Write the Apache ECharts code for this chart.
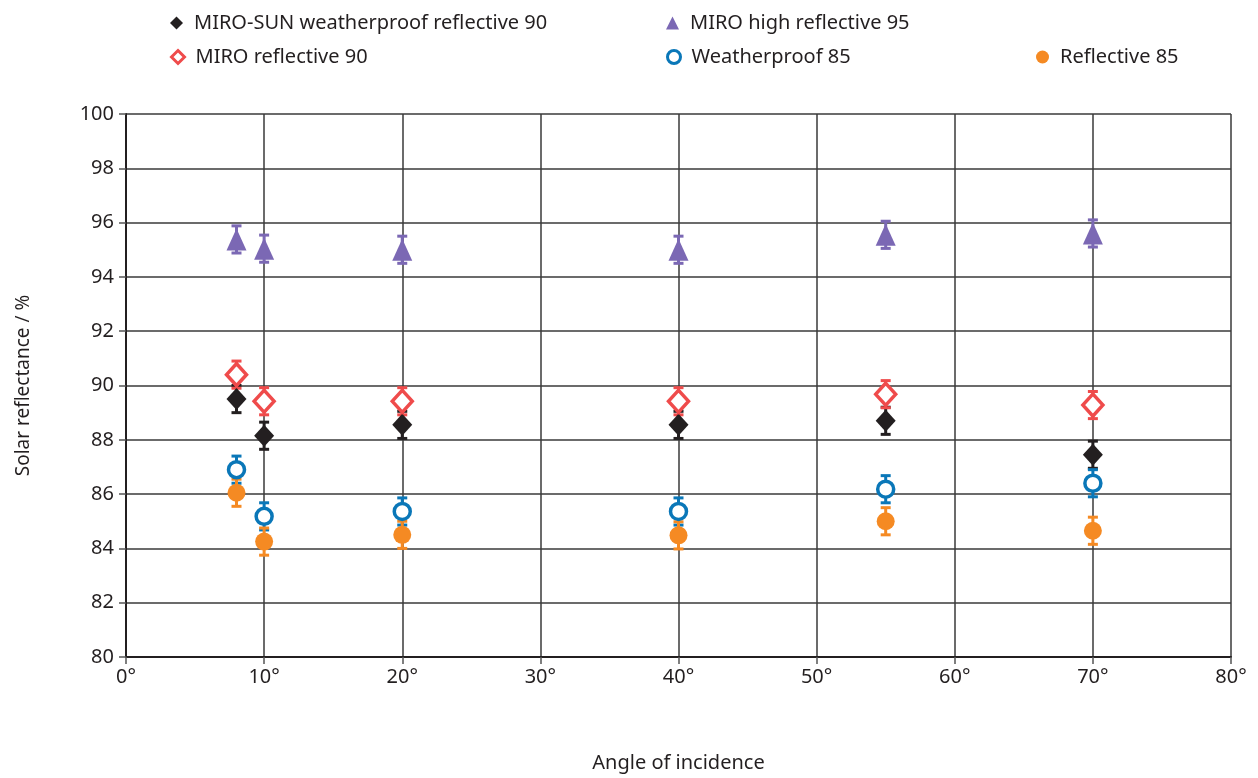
<!DOCTYPE html>
<html><head><meta charset="utf-8">
<script src="https://cdn.jsdelivr.net/npm/echarts@6/dist/echarts.min.js"></script>
<style>html,body{margin:0;padding:0;background:#fff}#c{width:1258px;height:778px}</style>
</head><body><div id="c"></div>
<script>
const angles = [8, 10, 20, 40, 55, 70];
const miroSun90 = [89.5, 88.15, 88.55, 88.55, 88.7, 87.45];
const miroHigh95 = [95.38, 95.04, 95.0, 95.0, 95.55, 95.6];
const miroRefl90 = [90.4, 89.42, 89.42, 89.42, 89.68, 89.28];
const weather85 = [86.9, 85.18, 85.36, 85.36, 86.18, 86.4];
const refl85 = [86.05, 84.25, 84.5, 84.48, 85.0, 84.65];
const errors = [0.5, 0.5, 0.5, 0.5, 0.5, 0.5];
const xTicks = [0, 10, 20, 30, 40, 50, 60, 70, 80];
const yTicks = [80, 82, 84, 86, 88, 90, 92, 94, 96, 98, 100];

const FONT = 'Noto Sans';
const TXT = '#231f20';
const defs = [
  {name:'MIRO-SUN weatherproof reflective 90', data:miroSun90, symbol:'diamond', size:[20,22], color:'#231f20', hollow:false, lg:[165,8]},
  {name:'MIRO high reflective 95', data:miroHigh95, symbol:'triangle', size:[20,22], color:'#7b68b4', hollow:false, lg:[661,8]},
  {name:'MIRO reflective 90', data:miroRefl90, symbol:'diamond', size:[20,22], color:'#ef4b4b', hollow:true, lg:[165,42]},
  {name:'Weatherproof 85', data:weather85, symbol:'circle', size:16, color:'#0a77b8', hollow:true, lg:[661,42]},
  {name:'Reflective 85', data:refl85, symbol:'circle', size:18, color:'#f58a23', hollow:false, lg:[1031,42]}
];

const series = [];
const legends = [];
defs.forEach((d, i) => {
  series.push({
    type:'custom', name:d.name, z:2, silent:true,
    data: angles.map((a, k) => [a, d.data[k], errors[k]]),
    renderItem: function(params, api){
      const x = api.value(0), y = api.value(1), e = api.value(2);
      const t = api.coord([x, y + e]), b = api.coord([x, y - e]);
      const hw = 5;
      const st = {stroke:d.color, lineWidth:3};
      return {type:'group', children:[
        {type:'line', shape:{x1:t[0], y1:t[1], x2:b[0], y2:b[1]}, style:st},
        {type:'line', shape:{x1:t[0]-hw, y1:t[1], x2:t[0]+hw, y2:t[1]}, style:st},
        {type:'line', shape:{x1:b[0]-hw, y1:b[1], x2:b[0]+hw, y2:b[1]}, style:st}
      ]};
    }
  });
  series.push({
    type:'scatter', name:d.name, z:3,
    symbol:d.symbol, symbolSize:d.size,
    data: angles.map((a, k) => [a, d.data[k]]),
    itemStyle: d.hollow ? {color:'#fff', borderColor:d.color, borderWidth:3.5, opacity:1} : {color:d.color, borderWidth:0, opacity:1}
  });
  legends.push({
    left:d.lg[0], top:d.lg[1], itemWidth:13, itemHeight:13,
    data:[{name:d.name, icon:d.symbol, itemStyle: d.hollow ? {color:'#fff', borderColor:d.color, borderWidth:3, opacity:1} : {color:d.color, borderWidth:0, opacity:1}}],
    textStyle:{fontFamily:FONT, fontSize:20, color:TXT, padding:[0,0,0,6]},
    selectedMode:false
  });
});

const chart = echarts.init(document.getElementById('c'));
chart.setOption({
  animation:false,
  backgroundColor:'#fff',
  legend: legends,
  grid:{left:126, right:27, top:114, bottom:120, containLabel:false},
  xAxis:{
    type:'value', min:xTicks[0], max:xTicks[xTicks.length-1], interval:10,
    name:'Angle of incidence', nameLocation:'middle', nameGap:96,
    nameTextStyle:{fontFamily:FONT, fontSize:20, color:TXT},
    axisLine:{lineStyle:{color:'#231f20', width:2}},
    axisTick:{show:true, length:7, lineStyle:{color:'#555', width:1.5}},
    axisLabel:{fontFamily:FONT, fontSize:20, color:TXT, margin:10, formatter:'{value}°'},
    splitLine:{show:true, lineStyle:{color:'#3a3a3a', width:1.5}}
  },
  yAxis:{
    type:'value', min:yTicks[0], max:yTicks[yTicks.length-1], interval:2,
    name:'Solar reflectance / %', nameLocation:'middle', nameGap:93,
    nameTextStyle:{fontFamily:FONT, fontSize:19, color:TXT},
    axisLine:{show:true, lineStyle:{color:'#231f20', width:2}},
    axisTick:{show:true, length:7, lineStyle:{color:'#555', width:1.5}},
    axisLabel:{fontFamily:FONT, fontSize:20, color:TXT, margin:12},
    splitLine:{show:true, lineStyle:{color:'#3a3a3a', width:1.5}}
  },
  series: series
});
</script></body></html>
